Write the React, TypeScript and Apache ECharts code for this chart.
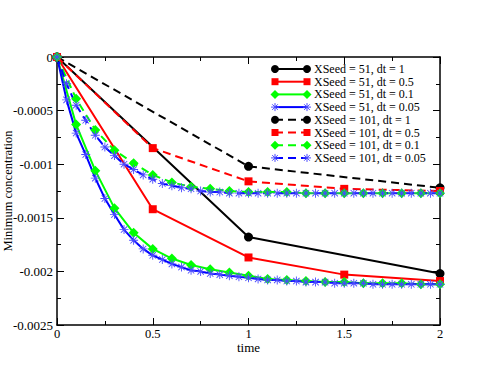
import React, { useEffect, useRef } from "react";
import * as echarts from "echarts";

const tDt1 = [0, 1, 2];
const tDt05 = [0, 0.5, 1, 1.5, 2];
const tDt01 = [0, 0.1, 0.2, 0.3, 0.4, 0.5, 0.6, 0.7, 0.8, 0.9, 1, 1.1, 1.2, 1.3, 1.4, 1.5, 1.6, 1.7, 1.8, 1.9, 2];
const tDt005 = [0, 0.05, 0.1, 0.15, 0.2, 0.25, 0.3, 0.35, 0.4, 0.45, 0.5, 0.55, 0.6, 0.65, 0.7, 0.75, 0.8, 0.85, 0.9, 0.95, 1,
  1.05, 1.1, 1.15, 1.2, 1.25, 1.3, 1.35, 1.4, 1.45, 1.5, 1.55, 1.6, 1.65, 1.7, 1.75, 1.8, 1.85, 1.9, 1.95, 2];

const s51dt1 = [0, -0.00168, -0.00202];
const s51dt05 = [0, -0.00142, -0.00187, -0.00203, -0.00209];
const s51dt01 = [0, -0.00063, -0.00106, -0.00141, -0.00164, -0.00179, -0.00188, -0.00194, -0.00198, -0.00201, -0.00204,
  -0.00207, -0.00208, -0.00209, -0.0021, -0.0021, -0.00211, -0.00211, -0.00211, -0.00212, -0.00212];
const s51dt005 = [0, -0.0004, -0.00071, -0.00091, -0.00113, -0.00132, -0.00147, -0.00161, -0.00171, -0.00179, -0.00185,
  -0.00189, -0.00193, -0.00196, -0.00199, -0.002, -0.00202, -0.00203, -0.00204, -0.00205, -0.00206,
  -0.00207, -0.00208, -0.00208, -0.00209, -0.00209, -0.0021, -0.0021, -0.0021, -0.00211, -0.00211,
  -0.00211, -0.00211, -0.00212, -0.00212, -0.00212, -0.00212, -0.00212, -0.00212, -0.00212, -0.00212];

const s101dt1 = [0, -0.00102, -0.00122];
const s101dt05 = [0, -0.00085, -0.00116, -0.00123, -0.00125];
const s101dt01 = [0, -0.00039, -0.00068, -0.00087, -0.00099, -0.0011, -0.00117, -0.00121, -0.00123, -0.00125, -0.00126,
  -0.00126, -0.00126, -0.00127, -0.00127, -0.00127, -0.00127, -0.00127, -0.00127, -0.00127, -0.00127];
const s101dt005 = [0, -0.00025, -0.00045, -0.00059, -0.00073, -0.00084, -0.00092, -0.001, -0.00105, -0.0011, -0.00114,
  -0.00118, -0.0012, -0.00122, -0.00123, -0.00125, -0.00126, -0.00126, -0.00127, -0.00127, -0.00127,
  -0.00127, -0.00127, -0.00127, -0.00127, -0.00127, -0.00127, -0.00127, -0.00127, -0.00127, -0.00127,
  -0.00127, -0.00127, -0.00127, -0.00127, -0.00127, -0.00127, -0.00127, -0.00127, -0.00127, -0.00127];

const seriesNames = [
  "XSeed = 51, dt = 1", "XSeed = 51, dt = 0.5", "XSeed = 51, dt = 0.1", "XSeed = 51, dt = 0.05",
  "XSeed = 101, dt = 1", "XSeed = 101, dt = 0.5", "XSeed = 101, dt = 0.1", "XSeed = 101, dt = 0.05",
];

const STAR = "path://M9,0H11V20H9Z M0,9H20V11H0Z M3.6,2.2L17.8,16.4L16.4,17.8L2.2,3.6Z M16.4,2.2L17.8,3.6L3.6,17.8L2.2,16.4Z";
const FONT = "Liberation Serif";

type Def = { t: number[]; v: number[]; color: string; markColor: string; kind: string; dashed: boolean };
const defs: Def[] = [
  { t: tDt1, v: s51dt1, color: "#000000", markColor: "#000000", kind: "circle", dashed: false },
  { t: tDt05, v: s51dt05, color: "#ff0000", markColor: "#ff0000", kind: "square", dashed: false },
  { t: tDt01, v: s51dt01, color: "#00ff00", markColor: "#00ff00", kind: "diamond", dashed: false },
  { t: tDt005, v: s51dt005, color: "#0000ff", markColor: "#4a4aff", kind: "star", dashed: false },
  { t: tDt1, v: s101dt1, color: "#000000", markColor: "#000000", kind: "circle", dashed: true },
  { t: tDt05, v: s101dt05, color: "#ff0000", markColor: "#ff0000", kind: "square", dashed: true },
  { t: tDt01, v: s101dt01, color: "#00ff00", markColor: "#00ff00", kind: "diamond", dashed: true },
  { t: tDt005, v: s101dt005, color: "#0000ff", markColor: "#4a4aff", kind: "star", dashed: true },
];

function symbolOf(kind: string) {
  if (kind === "circle") return { symbol: "circle", size: 9 };
  if (kind === "square") return { symbol: "rect", size: 8 };
  if (kind === "diamond") return { symbol: "diamond", size: 10 };
  return { symbol: STAR, size: 9 };
}

function legendSymbol(kind: string, cx: number, cy: number, color: string): any {
  if (kind === "circle") return { type: "circle", shape: { cx, cy, r: 4 }, style: { fill: color } };
  if (kind === "square") return { type: "rect", shape: { x: cx - 3.5, y: cy - 3.5, width: 7, height: 7 }, style: { fill: color } };
  if (kind === "diamond")
    return { type: "polygon", shape: { points: [[cx, cy - 4.5], [cx + 4.5, cy], [cx, cy + 4.5], [cx - 4.5, cy]] }, style: { fill: color } };
  const r = 4;
  const d = r * 0.707;
  return {
    type: "group",
    children: [
      [cx - r, cy, cx + r, cy], [cx, cy - r, cx, cy + r],
      [cx - d, cy - d, cx + d, cy + d], [cx - d, cy + d, cx + d, cy - d],
    ].map((p) => ({ type: "line", shape: { x1: p[0], y1: p[1], x2: p[2], y2: p[3] }, style: { stroke: color, lineWidth: 1 } })),
  };
}

export default function App() {
  const ref = useRef<HTMLDivElement>(null);
  useEffect(() => {
    const chart = echarts.init(ref.current!, null, { renderer: "svg" });
    const fmt = (v: number) => String(parseFloat(Number(v).toPrecision(6)));
    const series = defs.map((d, i) => {
      const s = symbolOf(d.kind);
      return {
        type: "line",
        name: seriesNames[i],
        data: d.t.map((t, j) => [t, d.v[j]]),
        symbol: s.symbol,
        symbolSize: s.size,
        showAllSymbol: true,
        itemStyle: { color: d.markColor },
        lineStyle: { color: d.color, width: 2, type: d.dashed ? [8, 5] : "solid" },
        z: 2,
      };
    });

    const legendEls: any[] = [];
    const x0 = 275, x1 = 307, tx = 314, y0 = 69, dy = 12.7;
    defs.forEach((d, i) => {
      const y = y0 + i * dy;
      legendEls.push({
        type: "line",
        shape: { x1: x0, y1: y, x2: x1, y2: y },
        style: { stroke: d.color, lineWidth: 2, lineDash: d.dashed ? [8, 5] : null },
      });
      legendEls.push(legendSymbol(d.kind, x0, y, d.markColor));
      legendEls.push(legendSymbol(d.kind, x1, y, d.markColor));
      legendEls.push({
        type: "text",
        x: tx,
        y: y,
        style: { text: seriesNames[i], fill: "#000", fontSize: 12, fontFamily: FONT, verticalAlign: "middle" },
      });
    });

    const tickStyle = { show: true, inside: true, length: 7, lineStyle: { color: "#000", width: 1 } };
    const minorStyle = { show: true, splitNumber: 2, length: 4, lineStyle: { color: "#000", width: 1 } };

    chart.setOption({
      animation: false,
      backgroundColor: "#fff",
      textStyle: { fontFamily: FONT },
      grid: { left: 57, right: 55, top: 57, bottom: 58, show: false, containLabel: false, outerBoundsMode: "none" },
      xAxis: [
        {
          type: "value", min: 0, max: 2, interval: 0.5, position: "bottom",
          name: "time", nameLocation: "middle", nameGap: 16, nameMoveOverlap: false,
          nameTextStyle: { fontSize: 13, color: "#000", fontFamily: FONT },
          axisLine: { show: true, onZero: false, lineStyle: { color: "#000", width: 1.5 } },
          axisTick: tickStyle, minorTick: minorStyle,
          axisLabel: { fontSize: 12.5, color: "#000", margin: 2, fontFamily: FONT, formatter: fmt },
          splitLine: { show: false },
        },
        {
          type: "value", min: 0, max: 2, interval: 0.5, position: "top",
          axisLine: { show: true, onZero: false, lineStyle: { color: "#000", width: 1.5 } },
          axisTick: tickStyle, minorTick: minorStyle,
          axisLabel: { show: false }, splitLine: { show: false },
        },
      ],
      yAxis: [
        {
          type: "value", min: -0.0025, max: 0, interval: 0.0005, position: "left",
          name: "Minimum concentration", nameLocation: "middle", nameGap: 43, nameRotate: 90, nameMoveOverlap: false,
          nameTextStyle: { fontSize: 12.5, color: "#000", fontFamily: FONT },
          axisLine: { show: true, onZero: false, lineStyle: { color: "#000", width: 1.5 } },
          axisTick: tickStyle, minorTick: minorStyle,
          axisLabel: { fontSize: 13, color: "#000", margin: 4, fontFamily: FONT, formatter: fmt },
          splitLine: { show: false },
        },
        {
          type: "value", min: -0.0025, max: 0, interval: 0.0005, position: "right",
          axisLine: { show: true, onZero: false, lineStyle: { color: "#000", width: 1.5 } },
          axisTick: tickStyle, minorTick: minorStyle,
          axisLabel: { show: false }, splitLine: { show: false },
        },
      ],
      series,
      graphic: legendEls,
    });
    return () => chart.dispose();
  }, []);
  return <div ref={ref} style={{ position: "fixed", left: 0, top: 0, width: 495, height: 383 }} />;
}
